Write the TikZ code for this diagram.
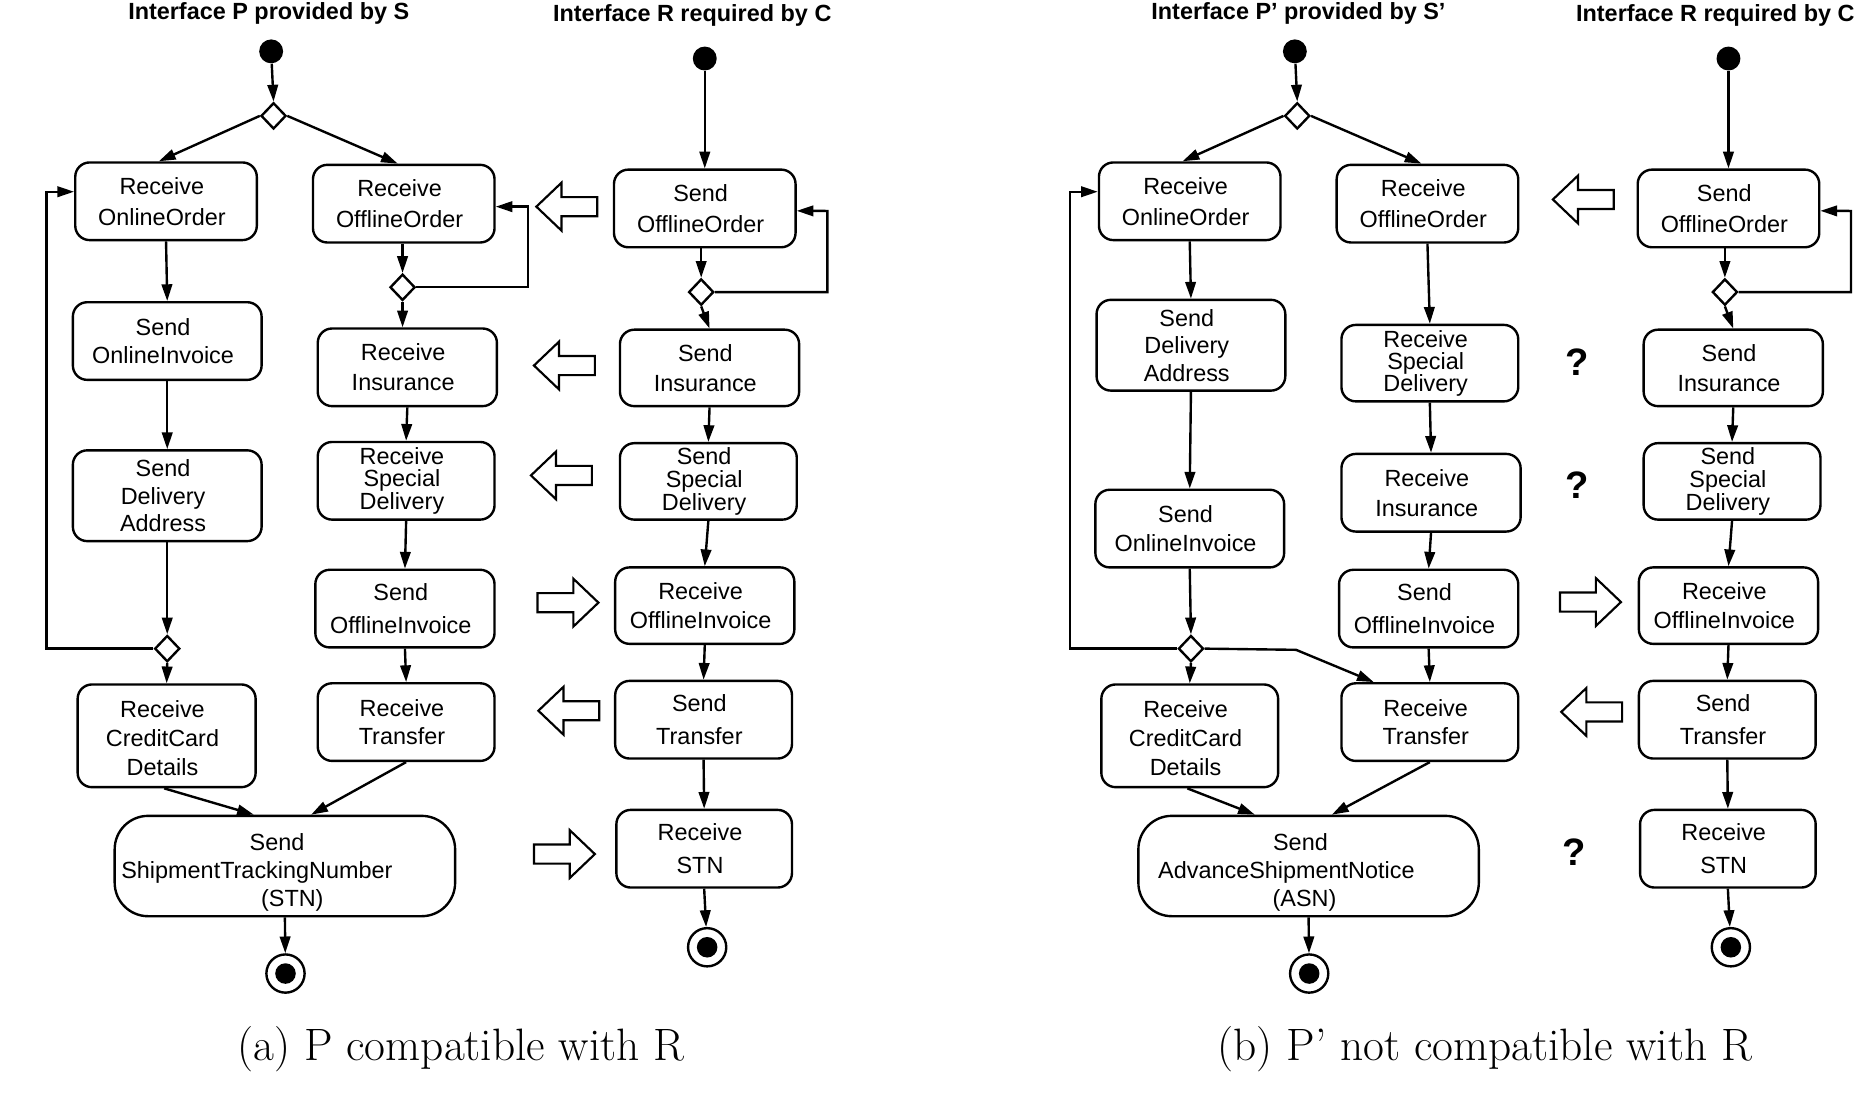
\documentclass[tikz,border=0pt]{standalone}
\usepackage{fontspec}
\newfontfamily\sansf{Liberation Sans}
\usetikzlibrary{arrows.meta,shapes.geometric}
\tikzset{
  act/.style={draw, line width=1pt, rounded corners=6pt, align=center, inner sep=0pt},
  bigact/.style={draw, line width=1pt, rounded corners=14pt, align=left, inner sep=0pt,
     text width=142.5pt, minimum height=42pt, font=\sansf\fontsize{9.8}{11.75}\selectfont},
  arr/.style={line width=1pt, -{Triangle[length=7pt,width=4.4pt]}},
  dec/.style={diamond, draw, line width=1pt, fill=white, inner sep=0pt, minimum width=10.5pt, minimum height=11pt},
  initn/.style={circle, fill=black, inner sep=0pt, minimum size=10pt},
  finaln/.style={circle, draw, line width=1pt, inner sep=0pt, minimum size=16pt,
     path picture={\fill[black] (path picture bounding box.center) circle (4.3pt);}},
  blk/.style={draw, line width=0.9pt, fill=white, line join=miter},
  ttl/.style={font=\sansf\bfseries\fontsize{9.8}{12}\selectfont},
  qm/.style={font=\sansf\bfseries\fontsize{16}{18}\selectfont},
  capt/.style={font=\rmfamily\fontsize{19}{22}\selectfont}
}
\newcommand\ls{\hspace*{-3.5pt}}
\newcommand\actnode[7][12]{\node[act, font=\sansf\fontsize{9.8}{#1}\selectfont,
   minimum width={(#5-#3)*0.5pt}, minimum height={(#6-#4)*0.5pt}] (#2) at ({(#3+#5)/2},{(#4+#6)/2}) {#7};}
\newcommand\blkL[2]{\draw[blk] (#1,#2) -- ++(21,-20) -- ++(0,12) -- ++(30,0) -- ++(0,16) -- ++(-30,0) -- ++(0,12) -- cycle;}
\newcommand\blkR[2]{\draw[blk] (#1,#2) -- ++(-21,-20) -- ++(0,12) -- ++(-30,0) -- ++(0,16) -- ++(30,0) -- ++(0,12) -- cycle;}
\begin{document}
\begin{tikzpicture}[x=0.5pt,y=-0.5pt]
\useasboundingbox (0,0) rectangle (1568,920);
% ---------------- titles ----------------
\node[ttl] (ta) at (225,11) {Interface P provided by S};
\node[ttl] (tc) at (579.5,13) {Interface R required by C};
\node[ttl] (tb) at (1087,11) {Interface P’ provided by S’};
\node[ttl] (td) at (1436,13) {Interface R required by C};
% ---------------- panel a, P ----------------
\node[initn] (as) at (227,43) {};
\node[dec] (ad1) at (229,97) {};
\actnode[13]{aro}{63}{136}{215}{201}{\ls Receive\\\ls OnlineOrder}
\actnode{asoi}{61}{253}{219}{318}{\ls Send\\\ls OnlineInvoice}
\actnode[11.5]{asda}{61}{377}{219}{453}{\ls Send\\\ls Delivery\\\ls Address}
\node[dec] (ad2) at (140,543) {};
\actnode[12.25]{arcc}{65}{573}{214}{659}{\ls\rule{0pt}{9pt}Receive\\\ls CreditCard\\\ls Details}
\actnode[13]{arf}{262}{138}{414}{203}{\ls Receive\\\ls OfflineOrder}
\node[dec] (ad3) at (337,240.5) {};
\actnode[12.5]{ari}{266}{275}{416}{340}{\ls Receive\\\ls Insurance}
\actnode[9.5]{arsd}{266}{370}{414}{435}{\ls Receive\\\ls Special\\\ls Delivery}
\actnode[13.5]{asof}{264}{477}{414}{542}{\ls Send\\\ls OfflineInvoice}
\actnode[11.5]{artr}{266}{572}{414}{637}{\ls Receive\\\ls Transfer}
\node[bigact] (astn) at (238.5,725)
  {\hspace*{56.5pt}\rule{0pt}{12.5pt}Send\\\hspace*{2.8pt}ShipmentTrackingNumber\\\hspace*{61.3pt}(STN)};
\node[finaln] (af) at (239,815) {};
\coordinate (aloop) at (39,160.5);
\coordinate (aloopb) at (442,173);
\draw[arr] (as) -- (ad1.north);
\draw[arr] (ad1.west) -- ([xshift=-3pt]aro.north);
\draw[arr] (ad1.east) -- ([xshift=-2.5pt]arf.north);
\draw[arr] (aro.south) -- (asoi.north);
\draw[arr] (asoi.south) -- (asda.north);
\draw[arr] (asda.south) -- (ad2.north);
\draw[arr] (ad2.south) -- (arcc.north);
\draw[arr] (ad2.west) -| (aloop) -- ([yshift=4pt]aro.west);
\draw[arr] (arf.south -| ad3.north) -- (ad3.north);
\draw[arr] (ad3.east) -| (aloopb) -- ([yshift=-1.25pt]arf.east);
\draw[arr] (ad3.south) -- (ad3.south |- ari.north);
\draw[arr] (ari.south) -- (arsd.north);
\draw[arr] (arsd.south) -- (asof.north);
\draw[arr] (asof.south) -- (artr.north);
\draw[arr] ([xshift=-1pt]arcc.south) -- ([xshift=-13pt]astn.north);
\draw[arr] (artr.south) -- ([xshift=11pt]astn.north);
\draw[arr] (astn.south) -- (af);
% ---------------- panel a, R ----------------
\node[initn] (cs) at (590,49) {};
\actnode[13]{csof}{514}{142}{666}{207}{\ls Send\\\ls OfflineOrder}
\node[dec] (cd) at (587,244.5) {};
\actnode[12.5]{csi}{519}{276}{669}{340}{\ls Send\\\ls Insurance}
\actnode[9.5]{cssd}{519}{371}{667}{435}{\ls Send\\\ls Special\\\ls Delivery}
\actnode[12]{croi}{515}{475}{665}{539}{\ls Receive\\\ls OfflineInvoice}
\actnode[14]{cst}{515}{570}{663}{635}{\ls Send\\\ls Transfer}
\actnode[13.5]{crstn}{516}{678}{663}{743}{\ls Receive\\\ls STN}
\node[finaln] (cf) at (592,793) {};
\coordinate (cloop) at (692.6,176.6);
\draw[arr] (cs) -- (cs |- csof.north);
\draw[arr] (csof.south -| cd.north) -- (cd.north);
\draw[arr] (cd.east) -| (cloop) -- ([yshift=-1pt]csof.east);
\draw[arr] (cd.south) -- (csi.north);
\draw[arr] (csi.south) -- (cssd.north);
\draw[arr] (cssd.south) -- (croi.north);
\draw[arr] (croi.south) -- (cst.north);
\draw[arr] (cst.south) -- (crstn.north);
\draw[arr] (crstn.south) -- (cf);
% block arrows a
\blkL{449}{173}
\blkL{447}{306}
\blkL{444.5}{398}
\blkR{501}{504.5}
\blkL{450.7}{595}
\blkR{498}{715}
% ---------------- panel b, P' ----------------
\node[initn] (bs) at (1084,43) {};
\node[dec] (bd1) at (1086,97) {};
\actnode[13]{bro}{920}{136}{1072}{201}{\ls Receive\\\ls OnlineOrder}
\actnode[11.5]{bsda}{918}{251}{1076}{327}{\ls Send\\\ls Delivery\\\ls Address}
\actnode[12]{bsoi}{917}{410}{1075}{475}{\ls Send\\\ls OnlineInvoice}
\node[dec] (bd2) at (997,543) {};
\actnode[12.25]{brcc}{922}{573}{1070}{659}{\ls\rule{0pt}{9pt}Receive\\\ls CreditCard\\\ls Details}
\actnode[13]{brf}{1119}{138}{1271}{203}{\ls Receive\\\ls OfflineOrder}
\actnode[9.25]{brsd}{1123}{272}{1271}{336}{\ls Receive\\\ls Special\\\ls Delivery}
\actnode[12.5]{bri}{1123}{380}{1273}{445}{\ls Receive\\\ls Insurance}
\actnode[13.5]{bsof}{1121}{477}{1271}{542}{\ls Send\\\ls OfflineInvoice}
\actnode[11.5]{brtr}{1123}{572}{1271}{637}{\ls Receive\\\ls Transfer}
\node[bigact] (basn) at (1095.5,725)
  {\hspace*{56.4pt}\rule{0pt}{12.5pt}Send\\\hspace*{8.3pt}AdvanceShipmentNotice\\\hspace*{56.2pt}(ASN)};
\node[finaln] (bf) at (1096,815) {};
\coordinate (bloop) at (896,160.5);
\coordinate (bbrk) at (1085,544);
\draw[arr] (bs) -- (bd1.north);
\draw[arr] (bd1.west) -- ([xshift=-3pt]bro.north);
\draw[arr] (bd1.east) -- ([xshift=-2.5pt]brf.north);
\draw[arr] (bro.south) -- (bsda.north);
\draw[arr] (bsda.south) -- (bsoi.north);
\draw[arr] (bsoi.south) -- (bd2.north);
\draw[arr] (bd2.south) -- (brcc.north);
\draw[arr] (bd2.west) -| (bloop) -- ([yshift=4pt]bro.west);
\draw[arr] (bd2.east) -- (bbrk) -- ([xshift=-23.5pt]brtr.north);
\draw[arr] (brf.south) -- (brsd.north);
\draw[arr] (brsd.south) -- (bri.north);
\draw[arr] (bri.south) -- (bsof.north);
\draw[arr] (bsof.south) -- (brtr.north);
\draw[arr] ([xshift=-1pt]brcc.south) -- ([xshift=-22.5pt]basn.north);
\draw[arr] (brtr.south) -- ([xshift=9.75pt]basn.north);
\draw[arr] (basn.south) -- (bf);
% ---------------- panel b, R ----------------
\node[initn] (ds) at (1447,49) {};
\actnode[13]{dsof}{1371}{142}{1523}{207}{\ls Send\\\ls OfflineOrder}
\node[dec] (dd) at (1444,244.5) {};
\actnode[12.5]{dsi}{1376}{276}{1526}{340}{\ls Send\\\ls Insurance}
\actnode[9.5]{dssd}{1376}{371}{1524}{435}{\ls Send\\\ls Special\\\ls Delivery}
\actnode[12]{droi}{1372}{475}{1522}{539}{\ls Receive\\\ls OfflineInvoice}
\actnode[14]{dst}{1372}{570}{1520}{635}{\ls Send\\\ls Transfer}
\actnode[13.5]{drstn}{1373}{678}{1520}{743}{\ls Receive\\\ls STN}
\node[finaln] (df) at (1449,793) {};
\coordinate (dloop) at (1549.6,176.6);
\draw[arr] (ds) -- (ds |- dsof.north);
\draw[arr] (dsof.south -| dd.north) -- (dd.north);
\draw[arr] (dd.east) -| (dloop) -- ([yshift=-1pt]dsof.east);
\draw[arr] (dd.south) -- (dsi.north);
\draw[arr] (dsi.south) -- (dssd.north);
\draw[arr] (dssd.south) -- (droi.north);
\draw[arr] (droi.south) -- (dst.north);
\draw[arr] (dst.south) -- (drstn.north);
\draw[arr] (drstn.south) -- (df);
% block arrows b and question marks
\blkL{1300}{167}
\blkR{1357}{504}
\blkL{1307}{596}
\node[qm] (q1) at (1320,303) {?};
\node[qm] (q2) at (1320,406) {?};
\node[qm] (q3) at (1318,713) {?};
% ---------------- captions ----------------
\node[capt] (capa) at (386,878) {(a) P compatible with R};
\node[capt] (capb) at (1243,878) {(b) P’ not compatible with R};
\end{tikzpicture}
\end{document}
